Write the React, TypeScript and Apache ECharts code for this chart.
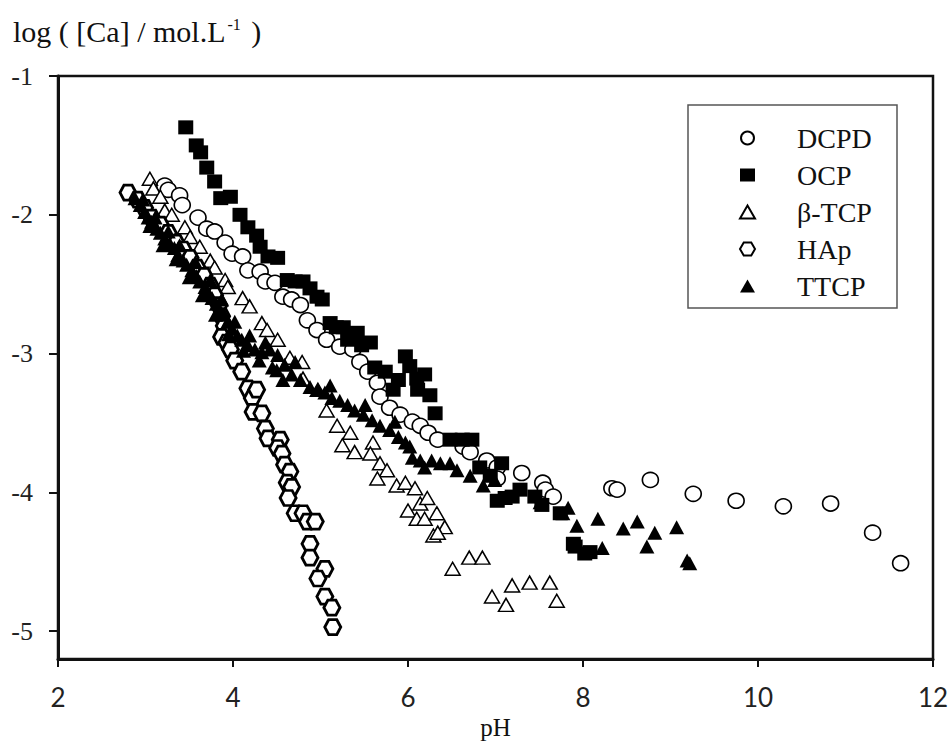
import React, { useEffect, useRef } from "react";
import * as echarts from "echarts";

const SERIES_NAMES = ["DCPD", "OCP", "β-TCP", "HAp", "TTCP"];
const X_TICKS = [2, 4, 6, 8, 10, 12];
const Y_TICKS = [-5, -4, -3, -2, -1];

const DCPD: number[][] = [
  [3.22, -1.79], [3.26, -1.82], [3.39, -1.86], [3.42, -1.93], [3.6, -2.02], [3.7, -2.1],
  [3.79, -2.12], [3.91, -2.2], [3.99, -2.28], [4.11, -2.3], [4.17, -2.4], [4.31, -2.41],
  [4.37, -2.48], [4.48, -2.49], [4.57, -2.59], [4.67, -2.61], [4.77, -2.65], [4.85, -2.76],
  [4.96, -2.83], [5.07, -2.9], [5.22, -2.95], [5.37, -2.97], [5.45, -3.06], [5.54, -3.13],
  [5.65, -3.21], [5.68, -3.31], [5.79, -3.39], [5.91, -3.44], [6.05, -3.49], [6.14, -3.52],
  [6.23, -3.57], [6.34, -3.62], [6.63, -3.67], [6.71, -3.71], [6.9, -3.77], [7.02, -3.82],
  [7.02, -3.9], [7.3, -3.86], [7.54, -3.93], [7.57, -3.98], [7.66, -4.03], [8.33, -3.97],
  [8.39, -3.98], [8.77, -3.91], [9.26, -4.01], [9.75, -4.06], [10.29, -4.1], [10.83, -4.08],
  [11.31, -4.29], [11.63, -4.51],
];

const OCP: number[][] = [
  [3.46, -1.37], [3.58, -1.5], [3.63, -1.55], [3.7, -1.66], [3.79, -1.76], [3.86, -1.88],
  [3.97, -1.87], [4.08, -2.0], [4.17, -2.09], [4.27, -2.15], [4.31, -2.23], [4.4, -2.3],
  [4.51, -2.31], [4.62, -2.47], [4.71, -2.48], [4.8, -2.48], [4.88, -2.53], [4.96, -2.59],
  [5.02, -2.61], [5.11, -2.78], [5.18, -2.81], [5.26, -2.81], [5.31, -2.9], [5.42, -2.85],
  [5.47, -2.94], [5.57, -2.92], [5.62, -3.1], [5.74, -3.13], [5.83, -3.26], [5.89, -3.19],
  [5.97, -3.02], [6.02, -3.09], [6.1, -3.18], [6.11, -3.26], [6.19, -3.15], [6.25, -3.3],
  [6.31, -3.43], [6.48, -3.62], [6.62, -3.62], [6.73, -3.62], [6.82, -3.82], [6.94, -3.88],
  [7.02, -4.06], [7.07, -3.79], [7.11, -4.04], [7.19, -4.03], [7.28, -3.98], [7.45, -4.03],
  [7.53, -4.09], [7.74, -4.15], [7.89, -4.37], [7.91, -4.39], [8.02, -4.44], [8.08, -4.43],
];

const BTCP: number[][] = [
  [3.05, -1.74], [3.09, -1.81], [3.17, -1.87], [3.22, -1.97], [3.3, -2.0], [3.45, -2.09],
  [3.51, -2.16], [3.62, -2.23], [3.74, -2.33], [3.79, -2.38], [3.91, -2.47], [3.94, -2.52],
  [4.11, -2.6], [4.19, -2.66], [4.33, -2.78], [4.39, -2.83], [4.51, -2.9], [4.65, -3.03],
  [4.79, -3.06], [4.8, -3.18], [4.97, -3.26], [5.07, -3.41], [5.19, -3.52], [5.34, -3.57],
  [5.25, -3.66], [5.39, -3.71], [5.6, -3.64], [5.57, -3.72], [5.68, -3.79], [5.76, -3.84],
  [5.65, -3.9], [5.87, -3.95], [5.97, -3.93], [6.08, -3.97], [6.0, -4.13], [6.14, -4.08],
  [6.22, -4.04], [6.1, -4.19], [6.19, -4.19], [6.33, -4.15], [6.42, -4.25], [6.29, -4.31],
  [6.34, -4.29], [6.51, -4.55], [6.7, -4.47], [6.85, -4.47], [6.96, -4.75], [7.12, -4.81],
  [7.19, -4.67], [7.39, -4.65], [7.62, -4.65], [7.7, -4.78],
];

const HAP: number[][] = [
  [2.8, -1.84], [2.91, -1.89], [2.99, -1.95], [3.07, -2.02], [3.17, -2.07], [3.26, -2.13],
  [3.35, -2.2], [3.43, -2.25], [3.51, -2.31], [3.59, -2.38], [3.67, -2.44], [3.74, -2.51],
  [3.79, -2.58], [3.84, -2.65], [3.87, -2.73], [3.9, -2.8], [3.87, -2.88], [3.93, -2.92],
  [3.97, -2.97], [4.02, -3.05], [4.1, -3.13], [4.17, -3.25], [4.22, -3.32], [4.27, -3.26],
  [4.23, -3.42], [4.33, -3.43], [4.37, -3.54], [4.4, -3.61], [4.54, -3.62], [4.51, -3.68],
  [4.56, -3.72], [4.59, -3.8], [4.65, -3.85], [4.62, -3.93], [4.67, -3.96], [4.63, -4.04],
  [4.71, -4.15], [4.8, -4.15], [4.85, -4.21], [4.94, -4.21], [4.88, -4.37], [4.88, -4.47],
  [5.05, -4.55], [4.97, -4.62], [5.05, -4.75], [5.13, -4.83], [5.14, -4.97],
];

const TTCP: number[][] = [
  [2.88, -1.88], [2.94, -1.93], [2.97, -1.89], [2.99, -1.98], [3.03, -2.02], [3.05, -2.08],
  [3.07, -2.05], [3.11, -2.02], [3.13, -2.1], [3.17, -2.13], [3.2, -2.22], [3.22, -2.17],
  [3.26, -2.12], [3.28, -2.21], [3.33, -2.24], [3.35, -2.32], [3.37, -2.29], [3.39, -2.22],
  [3.43, -2.33], [3.47, -2.36], [3.5, -2.45], [3.53, -2.4], [3.57, -2.34], [3.58, -2.44],
  [3.62, -2.48], [3.65, -2.58], [3.68, -2.52], [3.71, -2.56], [3.74, -2.47], [3.76, -2.6],
  [3.8, -2.72], [3.81, -2.64], [3.85, -2.69], [3.87, -2.61], [3.9, -2.72], [3.94, -2.77],
  [3.95, -2.86], [3.99, -2.82], [4.02, -2.77], [4.05, -2.87], [4.1, -2.9], [4.12, -2.98],
  [4.17, -2.94], [4.19, -2.87], [4.25, -2.97], [4.3, -3.05], [4.33, -2.99], [4.37, -2.92],
  [4.42, -2.97], [4.45, -3.1], [4.5, -3.12], [4.51, -3.01], [4.57, -3.19], [4.59, -3.08],
  [4.67, -3.15], [4.71, -3.06], [4.77, -3.19], [4.88, -3.24], [4.97, -3.26], [5.05, -3.28],
  [5.11, -3.23], [5.13, -3.32], [5.22, -3.34], [5.31, -3.37], [5.39, -3.41], [5.49, -3.44],
  [5.51, -3.37], [5.59, -3.48], [5.68, -3.52], [5.79, -3.55], [5.85, -3.49], [5.89, -3.6],
  [5.97, -3.64], [6.02, -3.67], [6.05, -3.75], [6.14, -3.77], [6.19, -3.82], [6.27, -3.77],
  [6.37, -3.79], [6.48, -3.79], [6.56, -3.84], [6.71, -3.88], [6.86, -3.95], [6.99, -3.91],
  [7.51, -4.07], [7.77, -4.15], [7.83, -4.11], [7.93, -4.24], [8.17, -4.19], [8.22, -4.4],
  [8.46, -4.26], [8.62, -4.21], [8.73, -4.39], [8.82, -4.29], [9.07, -4.25], [9.19, -4.49],
  [9.22, -4.51],
];

const SERIF = "'Liberation Serif', 'Times New Roman', serif";
const HEX = "path://M-1,0 L-0.5,-0.866 L0.5,-0.866 L1,0 L0.5,0.866 L-0.5,0.866 Z";

export default function App() {
  const ref = useRef<HTMLDivElement>(null);
  useEffect(() => {
    if (!ref.current) return;
    const chart = echarts.init(ref.current, undefined, { renderer: "svg" });
    const openStyle = (w: number) => ({ color: "#fff", borderColor: "#000", borderWidth: w, opacity: 1 });
    const filled = { color: "#000", borderColor: "#000", borderWidth: 0, opacity: 1 };
    const datasets = [DCPD, OCP, BTCP, HAP, TTCP];
    const symbols = ["circle", "rect", "triangle", HEX, "triangle"];
    const sizes = [[16, 15], [15, 14], [15, 13], [16, 15], [15, 14]];
    const styles = [openStyle(1.6), filled, openStyle(1.5), openStyle(2.8), filled];
    chart.setOption({
      animation: false,
      backgroundColor: "#fff",
      title: {
        text: "{a|log ( [Ca] / mol.L}{s|-1}{a| )}",
        left: 8,
        top: 11,
        textStyle: {
          fontWeight: "normal",
          rich: {
            a: { fontFamily: SERIF, fontSize: 30, fontWeight: "normal", color: "#111", lineHeight: 30 },
            s: { fontFamily: SERIF, fontSize: 16, fontWeight: "normal", color: "#111", verticalAlign: "top", lineHeight: 16, padding: [0, 3, 0, 2] },
          },
        },
      },
      grid: {
        left: 58, right: 19, top: 76, bottom: 86,
        containLabel: false,
        show: true, borderColor: "#111", borderWidth: 2.5, backgroundColor: "transparent",
      },
      legend: {
        orient: "vertical",
        left: 734,
        top: 119,
        itemWidth: 15,
        itemHeight: 13,
        itemGap: 9,
        data: SERIES_NAMES,
        formatter: (n: string) => `{g|}{t|${n}}`,
        textStyle: {
          rich: {
            g: { width: 37 },
            t: { fontFamily: SERIF, fontSize: 28, color: "#111" },
          },
        },
      },
      xAxis: {
        type: "value",
        min: 2,
        max: 12,
        interval: 2,
        name: "pH",
        nameLocation: "middle",
        nameGap: 54,
        nameTextStyle: { fontFamily: SERIF, fontSize: 25, color: "#111" },
        axisLine: { show: true, onZero: false, lineStyle: { color: "#111", width: 3 } },
        axisTick: { show: true, length: 8, lineStyle: { color: "#111", width: 2 }, customValues: X_TICKS },
        axisLabel: { margin: 25, fontFamily: "Lato, sans-serif", fontSize: 26, color: "#222", customValues: X_TICKS },
        splitLine: { show: false },
      },
      yAxis: {
        type: "value",
        min: -5.2,
        max: -1,
        axisLine: { show: true, onZero: false, lineStyle: { color: "#111", width: 3 } },
        axisTick: { show: true, length: 9, lineStyle: { color: "#111", width: 2 }, customValues: Y_TICKS },
        axisLabel: { margin: 25, fontFamily: SERIF, fontSize: 26, color: "#222", customValues: Y_TICKS },
        splitLine: { show: false },
      },
      graphic: [
        {
          type: "rect",
          shape: { x: 688, y: 105, width: 209, height: 203 },
          style: { fill: "transparent", stroke: "#555", lineWidth: 1.5 },
          z: 1,
        },
      ],
      series: SERIES_NAMES.map((name, i) => ({
        name,
        type: "scatter",
        data: datasets[i],
        symbol: symbols[i],
        symbolSize: sizes[i],
        itemStyle: styles[i],
        z: 2 + i,
      })),
    });
    return () => chart.dispose();
  }, []);
  return <div ref={ref} style={{ width: 952, height: 745, position: "absolute", left: 0, top: 0 }} />;
}
